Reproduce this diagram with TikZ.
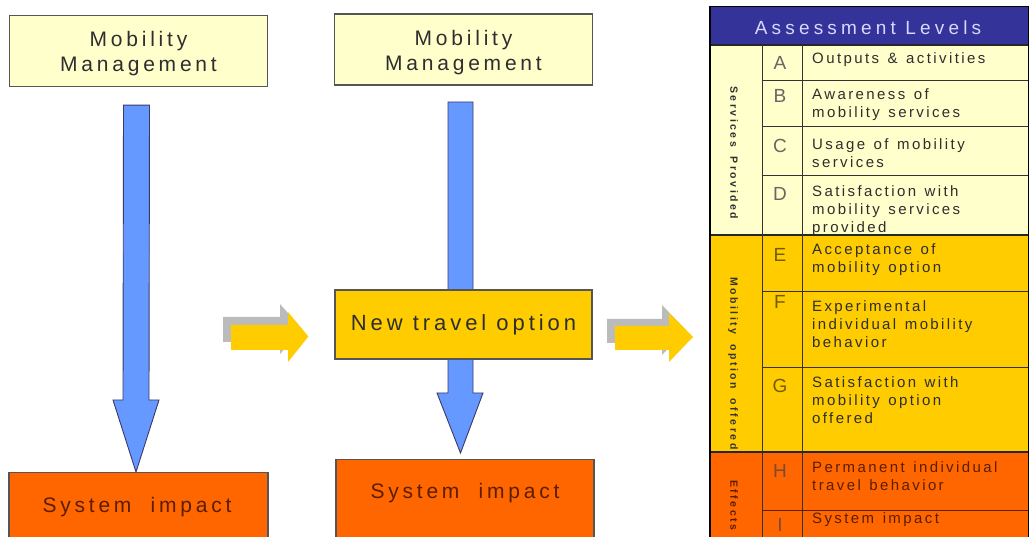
\documentclass[tikz,border=0pt]{standalone}
\usepackage{fontspec}
\setmainfont{Liberation Sans}
\newfontfamily\boxfont[LetterSpace=18]{Liberation Sans}
\newfontfamily\hdrfont[LetterSpace=22]{Liberation Sans}
\newfontfamily\cellfont[LetterSpace=16,WordSpace=1.3]{Liberation Sans}
\newfontfamily\sidefont[LetterSpace=24,WordSpace=1.8]{Liberation Sans}
\usetikzlibrary{calc}
\definecolor{lightyel}{HTML}{FFFFCC}
\definecolor{gold}{HTML}{FFCC00}
\definecolor{orng}{HTML}{FF6600}
\definecolor{blu}{HTML}{6699FF}
\definecolor{bluline}{HTML}{3A3A6A}
\definecolor{navy}{HTML}{333399}
\definecolor{lav}{HTML}{D8D8FF}
\definecolor{txt}{HTML}{2E2E2E}
\definecolor{brn}{HTML}{5A1E00}
\definecolor{shadowgray}{HTML}{BBBBBB}
\definecolor{boxline}{HTML}{555555}
\newcommand{\celllines}[1]{\parbox[t]{215pt}{\raggedright #1}}
\newcommand{\mmtext}{\raisebox{-3pt}[\height][\depth]{\parbox{250pt}{\centering Mobility\\Management}}}
\tikzset{
  mmbox/.style={draw=boxline, line width=1.2pt, fill=lightyel, minimum width=258pt, minimum height=71pt, inner sep=0pt, align=center, text=txt, font=\boxfont\fontsize{21}{25}\selectfont},
  optbox/.style={draw=boxline, line width=1.2pt, fill=gold, minimum width=257pt, minimum height=69pt, inner sep=0pt, text=txt, font=\boxfont\fontsize{22}{26}\selectfont},
  impbox/.style={draw=boxline, line width=1.2pt, fill=orng, inner sep=0pt},
  imptext/.style={text=brn, inner sep=0pt, font=\boxfont\fontsize{21}{25}\selectfont},
  bluearrow/.style={fill=blu, draw=bluline, line width=0.9pt, line join=miter},
  yelarrow/.style={fill=gold},
  shadarrow/.style={fill=shadowgray},
  celltext/.style={anchor=base west, inner sep=0pt, font=\cellfont\fontsize{15}{18}\selectfont},
  lettertext/.style={anchor=base, inner sep=0pt, font=\fontsize{19}{19}\selectfont},
  sidetext/.style={rotate=-90, anchor=mid west, inner sep=0pt, font=\sidefont\bfseries\fontsize{10.5}{10.5}\selectfont},
  rowline/.style={draw=black!80, line width=0.8pt},
  secline/.style={draw=black!85, line width=1.1pt}
}
\begin{document}
\begin{tikzpicture}[x=1pt,y=-1pt]
\useasboundingbox (0,0) rectangle (1034,537);
\fill[white] (0,0) rectangle (1034,537);
\clip (0,0) rectangle (1034,537);

% ---------- left column ----------
\node[mmbox] (mm1) at (138.5,51) {\mmtext};
\node[impbox, minimum width=259pt, minimum height=80pt, anchor=north] (si1) at (138.5,472) {};
\node[imptext] (si1t) at (137,507) {System\ \ impact};
\draw[bluearrow] ($(mm1.south)+(-15,18)$) -- ($(mm1.south)+(11,18)$) -- (149,400) -- (159,400)
   -- (si1.north -| 136,0) -- (113,400) -- (123,400) -- cycle;

% ---------- middle column ----------
\node[mmbox] (mm2) at (463.5,49.5) {\mmtext};
\draw[bluearrow] (448,102) -- (473,102) -- (473,393) -- (483,393) -- (460.5,453) -- (437,393) -- (448,393) -- cycle;
\node[optbox] (nto) at (463.5,324.5) {New travel option};
\node[impbox, minimum width=258pt, minimum height=90pt, anchor=north] (si2) at (465,459) {};
\node[imptext] (si2t) at (465,493) {System\ \ impact};

% ---------- yellow arrows ----------
\coordinate (ya1) at (nto.west);
\fill[shadarrow] (223,317) -- (280,317) -- (280,304) -- (302,329) -- (280,354) -- (280,342) -- (223,342) -- cycle;
\fill[yelarrow] (231,325) -- (288,325) -- (288,312) -- ($(ya1)+(-26,12)$) -- (288,362) -- (288,350) -- (231,350) -- cycle;

\fill[shadarrow] (607,319) -- (662,319) -- (662,305) -- (686,330) -- (662,355) -- (662,343) -- (607,343) -- cycle;
\fill[yelarrow] (615,326) -- (669,326) -- (669,313) -- (693,337) -- (669,362) -- (669,350) -- (615,350) -- cycle;

% ---------- table ----------
\fill[navy] (710,7) rectangle (1028,45);
\fill[lightyel] (710,45) rectangle (1028,235);
\fill[gold] (710,235) rectangle (1028,452);
\fill[orng] (710,452) rectangle (1028,545);
\node[font=\hdrfont\fontsize{19}{19}\selectfont, text=lav, anchor=base, inner sep=0pt] (hdr) at (868,35) {Assessment Levels};

% row lines (inner)
\foreach \yy in {80,126,175}{\draw[rowline] (762,\yy) -- (1028,\yy);}
\foreach \yy in {291,367}{\draw[rowline] (762,\yy) -- (1028,\yy);}
\draw[rowline, draw=brn] (762,510) -- (1028,510);
% section lines
\draw[secline] (710,45) -- (1028,45);
\draw[secline] (710,235) -- (1028,235);
\draw[secline] (710,452) -- (1028,452);
% column lines
\draw[rowline] (762,45) -- (762,545);
\draw[rowline] (802,45) -- (802,545);
% outer border
\draw[black, line width=1pt] (710,7) -- (1028,7) -- (1028,545);
\draw[black, line width=2.6pt] (710,6) -- (710,545);

% side labels
\node[sidetext, text=txt] (sp) at (733,86) {Services Provided};
\node[sidetext, text=black!80] (mo) at (733,277) {Mobility option offered};
\node[sidetext, text=brn] (ef) at (733,480) {Effects};

% letters
\node[lettertext, text=black!60] (lA) at (780,70) {A};
\node[lettertext, text=black!60] (lB) at (780,103) {B};
\node[lettertext, text=black!60] (lC) at (780,153) {C};
\node[lettertext, text=black!60] (lD) at (780,201) {D};
\node[lettertext, text=black!55!gold] (lE) at (780,262) {E};
\node[lettertext, text=black!55!gold] (lF) at (780,309) {F};
\node[lettertext, text=black!55!gold] (lG) at (780,392) {G};
\node[lettertext, text=brn!80] (lH) at (780,477) {H};
\node[lettertext, text=brn!80] (lI) at (780,531) {I};

% cell texts
\node[celltext, text=txt] (tA) at (812,64) {\celllines{Outputs \& activities}};
\node[celltext, text=txt] (tB) at (812,100) {\celllines{Awareness of\\mobility services}};
\node[celltext, text=txt] (tC) at (812,150) {\celllines{Usage of mobility\\services}};
\node[celltext, text=txt] (tD) at (812,197) {\celllines{Satisfaction with\\mobility services\\provided}};
\node[celltext, text=txt] (tE) at (812,255) {\celllines{Acceptance of\\mobility option}};
\node[celltext, text=txt] (tF) at (812,312) {\celllines{Experimental\\individual mobility\\behavior}};
\node[celltext, text=txt] (tG) at (812,388) {\celllines{Satisfaction with\\mobility option\\offered}};
\node[celltext, text=brn] (tH) at (812,472) {\celllines{Permanent individual\\travel behavior}};
\node[celltext, text=brn] (tI) at (812,523) {\celllines{System impact}};
\end{tikzpicture}
\end{document}
